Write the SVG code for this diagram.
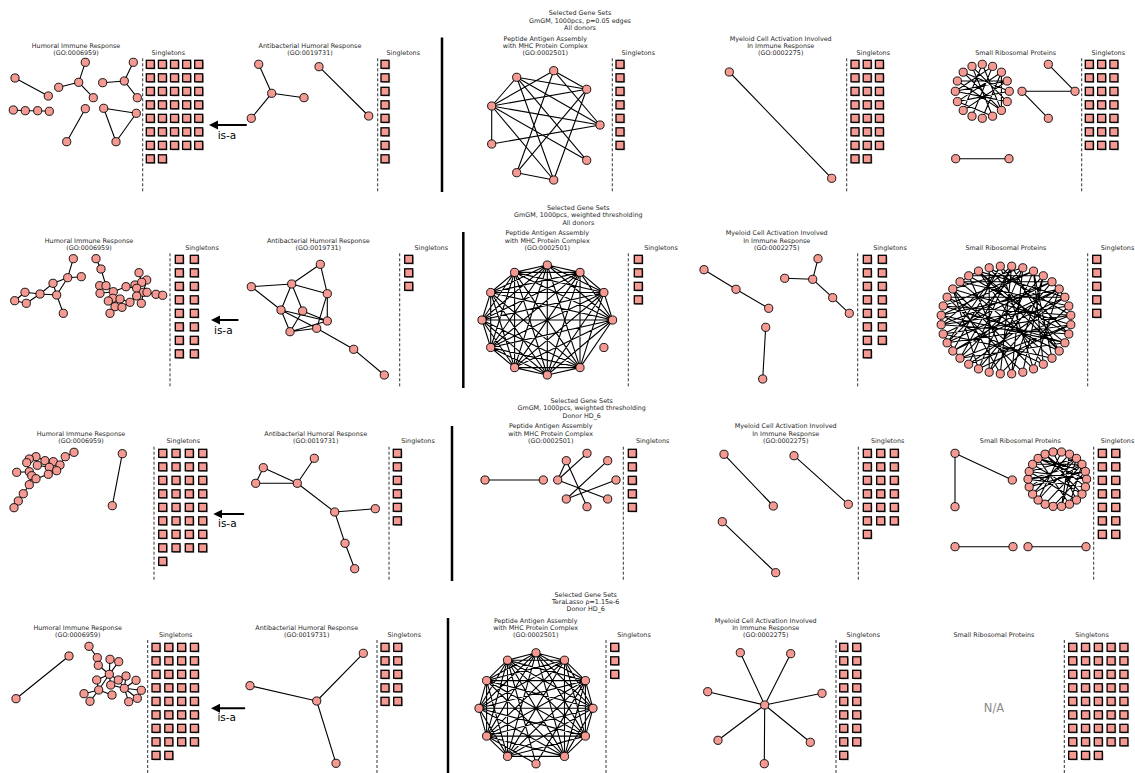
<svg xmlns="http://www.w3.org/2000/svg" xmlns:xlink="http://www.w3.org/1999/xlink" width="1135" height="773" viewBox="0 0 1135 773">
<style>
.t{font-family:"DejaVu Sans","Liberation Sans",sans-serif;font-size:6.4px;fill:#262626;text-anchor:middle}
.isa{font-family:"DejaVu Sans","Liberation Sans",sans-serif;font-size:10.5px;fill:#000;text-anchor:middle}
.na{font-family:"DejaVu Sans","Liberation Sans",sans-serif;font-size:11.5px;fill:#8a8a8a;text-anchor:middle}
.dash{stroke:#333;stroke-width:1;stroke-dasharray:3 2;fill:none}
.sep{stroke:#000;stroke-width:2.5}
.arr{stroke:#000;stroke-width:2;fill:none}
.cn{fill:#f59a92;stroke:#000;stroke-width:0.9}
.sq{fill:#f59a92;stroke:#000;stroke-width:1.3}
#labels{opacity:0.99}
</style>
<defs>
<circle id="c" r="4.1"/>
<g id="q"><rect x="-2.8" y="-2.8" width="8" height="8" fill="#b5b5b5" stroke="none"/><rect x="-4" y="-4" width="8" height="8"/></g>
<marker id="ah" viewBox="0 0 10 10" refX="0" refY="5" markerUnits="userSpaceOnUse" markerWidth="9" markerHeight="10" orient="auto"><path d="M0 0L10 5L0 10Z" fill="#000"/></marker>
</defs>
<rect width="1135" height="773" fill="#fff"/>

<g id="labels">
<text class="t" x="580" y="15.2">Selected Gene Sets</text>
<text class="t" x="580" y="22.5">GmGM, 1000pcs, p=0.05 edges</text>
<text class="t" x="580" y="29.8">All donors</text>
<text class="t" x="76" y="47.7">Humoral Immune Response</text>
<text class="t" x="76" y="55">(GO:0006959)</text>
<text class="t" x="168.3" y="55">Singletons</text>
<text class="t" x="310" y="47.7">Antibacterial Humoral Response</text>
<text class="t" x="310" y="55">(GO:0019731)</text>
<text class="t" x="403.3" y="55">Singletons</text>
<text class="t" x="545.3" y="41">Peptide Antigen Assembly</text>
<text class="t" x="545.3" y="47.7">with MHC Protein Complex</text>
<text class="t" x="545.3" y="55">(GO:0002501)</text>
<text class="t" x="638.3" y="55">Singletons</text>
<text class="t" x="780.7" y="41">Myeloid Cell Activation Involved</text>
<text class="t" x="780.7" y="47.7">In Immune Response</text>
<text class="t" x="780.7" y="55">(GO:0002275)</text>
<text class="t" x="873.3" y="55">Singletons</text>
<text class="t" x="1015.7" y="55">Small Ribosomal Proteins</text>
<text class="t" x="1108.3" y="55">Singletons</text>
<text class="isa" x="227" y="138.5">is-a</text>

<text class="t" x="578.3" y="210">Selected Gene Sets</text>
<text class="t" x="578.3" y="217.2">GmGM, 1000pcs, weighted thresholding</text>
<text class="t" x="578.3" y="224.5">All donors</text>
<text class="t" x="89" y="242.7">Humoral Immune Response</text>
<text class="t" x="89" y="250">(GO:0006959)</text>
<text class="t" x="202" y="250">Singletons</text>
<text class="t" x="318.3" y="242.7">Antibacterial Humoral Response</text>
<text class="t" x="318.3" y="250">(GO:0019731)</text>
<text class="t" x="431.3" y="250">Singletons</text>
<text class="t" x="547.3" y="235.4">Peptide Antigen Assembly</text>
<text class="t" x="547.3" y="242.7">with MHC Protein Complex</text>
<text class="t" x="547.3" y="250">(GO:0002501)</text>
<text class="t" x="661" y="250">Singletons</text>
<text class="t" x="776.7" y="235.4">Myeloid Cell Activation Involved</text>
<text class="t" x="776.7" y="242.7">In Immune Response</text>
<text class="t" x="776.7" y="250">(GO:0002275)</text>
<text class="t" x="890" y="250">Singletons</text>
<text class="t" x="1006" y="250">Small Ribosomal Proteins</text>
<text class="t" x="1117.5" y="250">Singletons</text>
<text class="isa" x="223.3" y="333.5">is-a</text>

<text class="t" x="581.7" y="403">Selected Gene Sets</text>
<text class="t" x="581.7" y="410.3">GmGM, 1000pcs, weighted thresholding</text>
<text class="t" x="581.7" y="417.6">Donor HD_6</text>
<text class="t" x="81" y="435.7">Humoral Immune Response</text>
<text class="t" x="81" y="443">(GO:0006959)</text>
<text class="t" x="183.3" y="443">Singletons</text>
<text class="t" x="315.7" y="435.7">Antibacterial Humoral Response</text>
<text class="t" x="315.7" y="443">(GO:0019731)</text>
<text class="t" x="418" y="443">Singletons</text>
<text class="t" x="550.7" y="428.4">Peptide Antigen Assembly</text>
<text class="t" x="550.7" y="435.7">with MHC Protein Complex</text>
<text class="t" x="550.7" y="443">(GO:0002501)</text>
<text class="t" x="652.7" y="443">Singletons</text>
<text class="t" x="785.7" y="428.4">Myeloid Cell Activation Involved</text>
<text class="t" x="785.7" y="435.7">In Immune Response</text>
<text class="t" x="785.7" y="443">(GO:0002275)</text>
<text class="t" x="887.7" y="443">Singletons</text>
<text class="t" x="1020.3" y="443">Small Ribosomal Proteins</text>
<text class="t" x="1117.5" y="443">Singletons</text>
<text class="isa" x="227.3" y="526.8">is-a</text>

<text class="t" x="585.7" y="596.7">Selected Gene Sets</text>
<text class="t" x="585.7" y="604">TeraLasso ρ=1.15e-6</text>
<text class="t" x="585.7" y="611.4">Donor HD_6</text>
<text class="t" x="77.7" y="630">Humoral Immune Response</text>
<text class="t" x="77.7" y="637.4">(GO:0006959)</text>
<text class="t" x="175.7" y="637.4">Singletons</text>
<text class="t" x="306.7" y="630">Antibacterial Humoral Response</text>
<text class="t" x="306.7" y="637.4">(GO:0019731)</text>
<text class="t" x="404.3" y="637.4">Singletons</text>
<text class="t" x="535.7" y="622.7">Peptide Antigen Assembly</text>
<text class="t" x="535.7" y="630">with MHC Protein Complex</text>
<text class="t" x="535.7" y="637.4">(GO:0002501)</text>
<text class="t" x="634" y="637.4">Singletons</text>
<text class="t" x="765.7" y="622.7">Myeloid Cell Activation Involved</text>
<text class="t" x="765.7" y="630">In Immune Response</text>
<text class="t" x="765.7" y="637.4">(GO:0002275)</text>
<text class="t" x="863.3" y="637.4">Singletons</text>
<text class="t" x="994" y="637.4">Small Ribosomal Proteins</text>
<text class="t" x="1092" y="637.4">Singletons</text>
<text class="na" x="994" y="712">N/A</text>
<text class="isa" x="226.7" y="721.2">is-a</text>
</g>

<g id="dividers">
<line class="sep" x1="442" y1="37.5" x2="442" y2="192"/>
<line class="sep" x1="463.3" y1="232" x2="463.3" y2="388"/>
<line class="sep" x1="452" y1="426" x2="452" y2="581"/>
<line class="sep" x1="448" y1="618" x2="448" y2="773"/>
<path class="dash" d="M142.7 58.3V192M377.7 58.3V192M612.3 58.3V192M846.7 58.3V192M1081.7 58.3V192"/>
<path class="dash" d="M170 253.3V388M399.7 253.3V388M628.3 253.3V388M857.7 253.3V388M1087.7 253.3V388"/>
<path class="dash" d="M154 446.7V581M389 446.7V581M623.3 446.7V581M858.3 446.7V581M1093.7 446.7V581"/>
<path class="dash" d="M147.7 640V773M377 640V773M606 640V773M836 640V773M1064.3 640V773"/>
</g>

<g id="connectors" fill="none" stroke="#000" stroke-width="1.1" stroke-linejoin="round" stroke-linecap="round">
<line id="isa1" class="arr" x1="246" y1="125" x2="218" y2="125" marker-end="url(#ah)"/>
<line id="isa2" class="arr" x1="237.7" y1="320" x2="220" y2="320" marker-end="url(#ah)"/>
<line id="isa3" class="arr" x1="243.3" y1="514" x2="222.3" y2="514" marker-end="url(#ah)"/>
<line id="isa4" class="arr" x1="244.3" y1="708.3" x2="220" y2="708.3" marker-end="url(#ah)"/>
<path id="e1h" d="M15 78L48.3 96M13.3 110L25.3 110.7L37.7 110.7L49.3 111.3M85.3 62.3L78.7 82.3L58.7 87.3M78.7 82.3L93.3 97.7M85.3 108.7L66.7 141.7M133.3 62.3L124.3 81L102.7 82.7M124.3 81L137.3 97.7M103.7 108.3L136.3 113.3L116 141.7Z"/>
<path id="e1a" d="M258.7 64.3L271.7 93.3L304 97.7M271.7 93.3L251.3 118.3M319 66.7L368.7 116"/>
<path id="e1p" d="M491.7 106L491.7 144M491.7 106L516.7 77.3M491.7 106L553.7 70.7M491.7 106L586.7 89.3M491.7 106L600 125M491.7 106L586.7 160.3M491.7 106L553.7 180M516.7 77.3L586.7 89.3M516.7 77.3L600 125M516.7 77.3L586.7 160.3M516.7 77.3L553.7 180M553.7 70.7L586.7 89.3M553.7 70.7L600 125M553.7 70.7L516.7 172.7M586.7 89.3L516.7 172.7M586.7 89.3L553.7 180M491.7 144L600 125M516.7 172.7L553.7 180"/>
<path id="e1m" d="M729.3 72L831.7 178.3"/>
<path id="e1r" d="M963.2 72.2L1009.3 91.3M963.2 72.2L1001.4 110.4M972 66.4L1007.2 101.6M957.4 81L1001.4 110.4M955.3 91.3L1007.2 81M955.3 91.3L1007.2 101.6M957.4 101.6L1001.4 72.2M957.4 101.6L992.6 116.2M982.3 64.3L963.2 110.4M992.6 66.4L972 116.2M992.6 66.4L955.3 91.3M1007.2 81L963.2 110.4M1001.4 72.2L982.3 118.3M1001.4 72.2L1001.4 110.4M972 66.4L992.6 116.2M1009.3 91.3L957.4 101.6M957.4 81L1007.2 81M982.3 64.3L1001.4 110.4M1022 91.3L1075 91.3M1022 91.3L1048.3 118.3M1048.3 64.3L1075 91.3M955.7 158.7L1009 158.7"/>
<path id="e2h" d="M73.3 258.7L67.7 277.7L81.3 276.7M67.7 277.7L53 283.3L40 294L25 292.3L14.7 300.7L26.3 303.3L40 294L56.7 295L67.7 277.7M53 283.3L56.7 295L63.3 313.3M96 258.7L101 269L106 285.7L99.7 285.7L100 293.3L113.3 291.7L106 285.7M113.3 291.7L112.7 298.3L108.3 301L115 306.7L110 313.3M112.7 298.3L115 306.7M112.7 298.3L120 299L130 302.3L136.7 296L141.3 303.3L143.3 292.3L147 292.3L156 294.3L162.7 295.3M136.7 296L143.3 292.3M120 299L122 307.3L130 302.3M113.3 291.7L126 286.7L136.7 288.3L135 285M136.7 288.3L141.7 282.3L139 272.7M141.7 282.3L146.7 280L143.3 292.3M136.7 288.3L136.7 296"/>
<path id="e2a" d="M251.3 286.7L291.7 284L320.3 264.3L327.3 293.7L291.7 284L281 310L251.3 286.7M291.7 284L302.7 311L290 331.7L281 310L327.3 321L327.3 293.7L316.7 328.3L281 310M302.7 311L327.3 321L290 331.7L316.7 328.3L353.7 349.3L384.3 375"/>
<path id="e2p" d="M547.3 265L580 272.4L603.9 292.5L612.6 320L580 367.6L547.3 375L514.6 367.6L490.7 347.5L482 320L490.7 292.5L514.6 272.4ZM547.3 265L603.9 292.5L580 367.6L514.6 367.6L482 320L514.6 272.4L580 272.4L612.6 320L547.3 375L490.7 347.5L490.7 292.5ZM547.3 265L612.6 320L514.6 367.6L490.7 292.5L580 272.4L580 367.6L490.7 347.5L514.6 272.4L603.9 292.5L547.3 375L482 320ZM547.3 265L580 367.6L482 320L580 272.4L547.3 375L490.7 292.5L603.9 292.5L514.6 367.6L514.6 272.4L612.6 320L490.7 347.5ZM547.3 265L547.3 375L514.6 272.4L580 367.6L490.7 292.5L612.6 320L482 320L603.9 292.5L490.7 347.5L580 272.4L514.6 367.6Z"/>
<path id="e2m" d="M704 269.7L736 289.3L768.7 308.3M818 258.7L812.7 279.3L784.7 278.3M812.7 279.3L832.7 297.7L849.3 313.3M765.7 327.3L762.7 379"/>
<path id="e2r" d="M1011.7 266.2L1000.3 373.8M1011.7 266.2L960 358.2M1011.7 266.2L941.2 324.7M1022.8 267.8L978.5 368.9M1022.8 267.8L947.1 342.8M1022.8 267.8L952.8 289M1033.5 271.1L1043.3 364.2M1033.5 271.1L989.2 372.2M1033.5 271.1L943.2 306M1043.3 275.8L960 358.2M1043.3 275.8L968.7 275.8M1043.3 275.8L1011.7 373.8M1052 281.8L943.2 334M1052 281.8L960 281.8M1052 281.8L978.5 368.9M1059.2 289L941.2 315.3M1059.2 289L952.8 351M1059.2 289L1033.5 368.9M1064.9 297.2L947.1 297.2M1064.9 297.2L968.7 364.2M1064.9 297.2L978.5 271.1M1068.8 306L941.2 324.7M1068.8 306L1000.3 373.8M1068.8 306L960 281.8M1070.8 315.3L943.2 306M1070.8 315.3L960 358.2M1070.8 315.3L989.2 267.8M1070.8 324.7L952.8 289M1070.8 324.7L947.1 342.8M1070.8 324.7L978.5 368.9M1068.8 334L968.7 275.8M1068.8 334L941.2 324.7M1068.8 334L1000.3 266.2M1064.9 342.8L941.2 315.3M1064.9 342.8L978.5 271.1M1064.9 342.8L960 358.2M1059.2 351L947.1 297.2M1059.2 351L989.2 267.8M1059.2 351L1011.7 266.2M1052 358.2L960 281.8M1052 358.2L943.2 334M1052 358.2L1033.5 271.1M1043.3 364.2L978.5 271.1M1043.3 364.2L941.2 315.3M1033.5 368.9L952.8 289M1033.5 368.9L1000.3 266.2M1022.8 372.2L947.1 297.2M1022.8 372.2L1043.3 275.8M1011.7 373.8L968.7 275.8M1011.7 373.8L1022.8 267.8M1000.3 373.8L952.8 289M989.2 372.2L989.2 267.8M989.2 372.2L1059.2 289M968.7 364.2L1011.7 266.2M952.8 351L1064.9 297.2M947.1 342.8L1000.3 266.2M943.2 334L1070.8 315.3M943.2 306L1064.9 342.8M978.5 271.1L1059.2 351M952.8 289L978.5 368.9M968.7 364.2L1070.8 324.7M941.2 324.7L1052 281.8M941.2 315.3L1033.5 271.1M952.8 351L1000.3 266.2M947.1 342.8L1059.2 289M960 358.2L943.2 334M960 281.8L978.5 271.1M1052 281.8L1064.9 297.2"/>
<path id="e3h" d="M74 452.3L65.3 456.7L60 465L53.3 461.7L45 460.7L36 456.7L29.3 459L26.7 462.7L29.3 471.7L16.7 472.3M36 456.7L37.3 465.3L49.3 467.3L48.3 474.3L56.7 470.7L60 465M45 460.7L49.3 467.3M29.3 471.7L31.7 475.7L36 478.7L48.3 474.3M31.7 475.7L29.3 484.7L23.3 493.7L18.3 501L14 507.7M122.3 453.7L112.3 505.7"/>
<path id="e3a" d="M263.3 467.7L255.7 483.3L297.3 483.3L263.3 467.7M297.3 483.3L314.3 458.3M297.3 483.3L334.7 512L375.3 508.7M334.7 512L345 543.3L354.7 568.7"/>
<path id="e3p" d="M485 480L543.3 480M566.3 460.7L557.7 480L587 453.3M557.7 480L607.7 499M566.3 460.7L587 506.7M607.7 460.7L566.3 499L616 480"/>
<path id="e3m" d="M724 454.3L773.3 506M794 455.7L848.3 504.3M722.3 521.7L775.7 572.7"/>
<path id="e3r" d="M1076.5 458.4L1038.1 500M1076.5 458.4L1029.2 486.9M1076.5 458.4L1029.2 471.5M1082 464.3L1045.1 504.2M1082 464.3L1032.6 494.1M1082 464.3L1028 479.2M1082 464.3L1032.6 464.3M1085.4 471.5L1028 479.2M1085.4 471.5L1053.1 506.4M1085.4 471.5L1038.1 458.4M1069.5 454.2L1032.6 494.1M1069.5 454.2L1061.5 506.4M1086.6 479.2L1029.2 471.5M1086.6 479.2L1038.1 458.4M1085.4 486.9L1028 479.2M1085.4 486.9L1045.1 454.2M1082 494.1L1032.6 464.3M1076.5 458.4L1061.5 506.4M1061.5 452L1038.1 500M1053.1 452L1076.5 500M1045.1 454.2L1082 494.1M1038.1 458.4L1069.5 504.2M1029.2 471.5L1076.5 500M1029.2 486.9L1085.4 471.5M1082 464.3L1069.5 504.2M955 453.3L1012.3 480M955 453.3L955 506.7M955 546.7L1013 546.7M1028 546.7L1086 546.7"/>
<path id="e4h" d="M69 656L16 698.7M89 646.3L97.3 657.7L98.3 665.3L109.3 674.3L110 659.3M118.7 661.7L109.3 674.3L118.3 680L124.3 688.3L126 676M118.3 680L126 676M136 680.3L124.3 688.3L141.3 690.3M124.3 688.3L137.3 698.3M124.3 688.3L128.7 701.7M109.3 674.3L96.7 680L98.7 690L84 693.7M109.3 674.3L110.7 685L124.3 688.3M109.3 674.3L98.7 690L90 701.3M98.7 690L112 695"/>
<path id="e4a" d="M316.7 701L250 685.7M316.7 701L363.3 653.3M316.7 701L336 763.3"/>
<path id="e4p" d="M536 652.8L564.5 660.2L585.4 680.6L593 708.3L585.4 736.1L564.5 756.4L507.5 756.4L486.6 736.1L479 708.3L486.6 680.6L507.5 660.2ZM536 652.8L585.4 680.6L585.4 736.1L507.5 756.4L479 708.3L507.5 660.2L564.5 660.2L593 708.3L564.5 756.4L486.6 736.1L486.6 680.6ZM536 652.8L593 708.3L507.5 756.4L486.6 680.6L564.5 660.2L585.4 736.1L486.6 736.1L507.5 660.2L585.4 680.6L564.5 756.4L479 708.3ZM536 652.8L585.4 736.1L479 708.3L564.5 660.2L564.5 756.4L486.6 680.6L585.4 680.6L507.5 756.4L507.5 660.2L593 708.3L486.6 736.1ZM536 652.8L564.5 756.4L507.5 660.2L585.4 736.1L486.6 680.6L593 708.3L479 708.3L585.4 680.6L486.6 736.1L564.5 660.2L507.5 756.4ZM536 763.8L486.6 736.1M536 763.8L507.5 660.2M536 763.8L585.4 680.6"/>
<path id="e4m" d="M764.7 705L740.3 652.7M764.7 705L790.7 653.7M764.7 705L707.7 691.7M764.7 705L822 693.3M764.7 705L718 740.3M764.7 705L810.3 742.3M764.7 705L764.3 763.7"/>
</g>

<g id="graph-nodes" class="cn">
<g id="n1h1"><use href="#c" x="15" y="78"/></g>
<g id="n1h2"><use href="#c" x="48.3" y="96"/></g>
<g id="n1h3"><use href="#c" x="13.3" y="110"/></g>
<g id="n1h4"><use href="#c" x="25.3" y="110.7"/></g>
<g id="n1h5"><use href="#c" x="37.7" y="110.7"/></g>
<g id="n1h6"><use href="#c" x="49.3" y="111.3"/></g>
<g id="n1h7"><use href="#c" x="78.7" y="82.3"/></g>
<g id="n1h8"><use href="#c" x="85.3" y="62.3"/></g>
<g id="n1h9"><use href="#c" x="58.7" y="87.3"/></g>
<g id="n1h10"><use href="#c" x="93.3" y="97.7"/></g>
<g id="n1h11"><use href="#c" x="85.3" y="108.7"/></g>
<g id="n1h12"><use href="#c" x="66.7" y="141.7"/></g>
<g id="n1h13"><use href="#c" x="124.3" y="81"/></g>
<g id="n1h14"><use href="#c" x="133.3" y="62.3"/></g>
<g id="n1h15"><use href="#c" x="102.7" y="82.7"/></g>
<g id="n1h16"><use href="#c" x="137.3" y="97.7"/></g>
<g id="n1h17"><use href="#c" x="103.7" y="108.3"/></g>
<g id="n1h18"><use href="#c" x="136.3" y="113.3"/></g>
<g id="n1h19"><use href="#c" x="116" y="141.7"/></g>
<g id="n1a1"><use href="#c" x="271.7" y="93.3"/></g>
<g id="n1a2"><use href="#c" x="258.7" y="64.3"/></g>
<g id="n1a3"><use href="#c" x="304" y="97.7"/></g>
<g id="n1a4"><use href="#c" x="251.3" y="118.3"/></g>
<g id="n1a5"><use href="#c" x="319" y="66.7"/></g>
<g id="n1a6"><use href="#c" x="368.7" y="116"/></g>
<g id="n1p1"><use href="#c" x="516.7" y="77.3"/></g>
<g id="n1p2"><use href="#c" x="553.7" y="70.7"/></g>
<g id="n1p3"><use href="#c" x="586.7" y="89.3"/></g>
<g id="n1p4"><use href="#c" x="600" y="125"/></g>
<g id="n1p5"><use href="#c" x="586.7" y="160.3"/></g>
<g id="n1p6"><use href="#c" x="553.7" y="180"/></g>
<g id="n1p7"><use href="#c" x="516.7" y="172.7"/></g>
<g id="n1p8"><use href="#c" x="491.7" y="144"/></g>
<g id="n1p9"><use href="#c" x="491.7" y="106"/></g>
<g id="n1m1"><use href="#c" x="729.3" y="72"/></g>
<g id="n1m2"><use href="#c" x="831.7" y="178.3"/></g>
<g id="n1r0"><use href="#c" x="982.3" y="64.3"/></g>
<g id="n1r1"><use href="#c" x="992.6" y="66.4"/></g>
<g id="n1r2"><use href="#c" x="1001.4" y="72.2"/></g>
<g id="n1r3"><use href="#c" x="1007.2" y="81"/></g>
<g id="n1r4"><use href="#c" x="1009.3" y="91.3"/></g>
<g id="n1r5"><use href="#c" x="1007.2" y="101.6"/></g>
<g id="n1r6"><use href="#c" x="1001.4" y="110.4"/></g>
<g id="n1r7"><use href="#c" x="992.6" y="116.2"/></g>
<g id="n1r8"><use href="#c" x="982.3" y="118.3"/></g>
<g id="n1r9"><use href="#c" x="972" y="116.2"/></g>
<g id="n1r10"><use href="#c" x="963.2" y="110.4"/></g>
<g id="n1r11"><use href="#c" x="957.4" y="101.6"/></g>
<g id="n1r12"><use href="#c" x="955.3" y="91.3"/></g>
<g id="n1r13"><use href="#c" x="957.4" y="81"/></g>
<g id="n1r14"><use href="#c" x="963.2" y="72.2"/></g>
<g id="n1r15"><use href="#c" x="972" y="66.4"/></g>
<g id="n1r16"><use href="#c" x="1022" y="91.3"/></g>
<g id="n1r17"><use href="#c" x="1075" y="91.3"/></g>
<g id="n1r18"><use href="#c" x="1048.3" y="118.3"/></g>
<g id="n1r19"><use href="#c" x="1048.3" y="64.3"/></g>
<g id="n1r20"><use href="#c" x="955.7" y="158.7"/></g>
<g id="n1r21"><use href="#c" x="1009" y="158.7"/></g>

<g id="n2h1"><use href="#c" x="73.3" y="258.7"/></g>
<g id="n2h2"><use href="#c" x="67.7" y="277.7"/></g>
<g id="n2h3"><use href="#c" x="81.3" y="276.7"/></g>
<g id="n2h4"><use href="#c" x="53" y="283.3"/></g>
<g id="n2h5"><use href="#c" x="56.7" y="295"/></g>
<g id="n2h6"><use href="#c" x="40" y="294"/></g>
<g id="n2h7"><use href="#c" x="25" y="292.3"/></g>
<g id="n2h8"><use href="#c" x="14.7" y="300.7"/></g>
<g id="n2h9"><use href="#c" x="26.3" y="303.3"/></g>
<g id="n2h10"><use href="#c" x="63.3" y="313.3"/></g>
<g id="n2h11"><use href="#c" x="96" y="258.7"/></g>
<g id="n2h12"><use href="#c" x="101" y="269"/></g>
<g id="n2h13"><use href="#c" x="99.7" y="285.7"/></g>
<g id="n2h14"><use href="#c" x="106" y="285.7"/></g>
<g id="n2h15"><use href="#c" x="100" y="293.3"/></g>
<g id="n2h16"><use href="#c" x="113.3" y="291.7"/></g>
<g id="n2h17"><use href="#c" x="126" y="286.7"/></g>
<g id="n2h18"><use href="#c" x="135" y="285"/></g>
<g id="n2h19"><use href="#c" x="139" y="272.7"/></g>
<g id="n2h20"><use href="#c" x="146.7" y="280"/></g>
<g id="n2h21"><use href="#c" x="141.7" y="282.3"/></g>
<g id="n2h22"><use href="#c" x="136.7" y="288.3"/></g>
<g id="n2h23"><use href="#c" x="143.3" y="292.3"/></g>
<g id="n2h24"><use href="#c" x="147" y="292.3"/></g>
<g id="n2h25"><use href="#c" x="156" y="294.3"/></g>
<g id="n2h26"><use href="#c" x="162.7" y="295.3"/></g>
<g id="n2h27"><use href="#c" x="112.7" y="298.3"/></g>
<g id="n2h28"><use href="#c" x="120" y="299"/></g>
<g id="n2h29"><use href="#c" x="136.7" y="296"/></g>
<g id="n2h30"><use href="#c" x="108.3" y="301"/></g>
<g id="n2h31"><use href="#c" x="130" y="302.3"/></g>
<g id="n2h32"><use href="#c" x="141.3" y="303.3"/></g>
<g id="n2h33"><use href="#c" x="115" y="306.7"/></g>
<g id="n2h34"><use href="#c" x="122" y="307.3"/></g>
<g id="n2h35"><use href="#c" x="110" y="313.3"/></g>
<g id="n2a1"><use href="#c" x="251.3" y="286.7"/></g>
<g id="n2a2"><use href="#c" x="291.7" y="284"/></g>
<g id="n2a3"><use href="#c" x="320.3" y="264.3"/></g>
<g id="n2a4"><use href="#c" x="327.3" y="293.7"/></g>
<g id="n2a5"><use href="#c" x="281" y="310"/></g>
<g id="n2a6"><use href="#c" x="302.7" y="311"/></g>
<g id="n2a7"><use href="#c" x="290" y="331.7"/></g>
<g id="n2a8"><use href="#c" x="316.7" y="328.3"/></g>
<g id="n2a9"><use href="#c" x="327.3" y="321"/></g>
<g id="n2a10"><use href="#c" x="353.7" y="349.3"/></g>
<g id="n2a11"><use href="#c" x="384.3" y="375"/></g>
<g id="n2p0"><use href="#c" x="547.3" y="265"/></g>
<g id="n2p1"><use href="#c" x="580" y="272.4"/></g>
<g id="n2p2"><use href="#c" x="603.9" y="292.5"/></g>
<g id="n2p3"><use href="#c" x="612.6" y="320"/></g>
<g id="n2p4"><use href="#c" x="603.9" y="347.5"/></g>
<g id="n2p5"><use href="#c" x="580" y="367.6"/></g>
<g id="n2p6"><use href="#c" x="547.3" y="375"/></g>
<g id="n2p7"><use href="#c" x="514.6" y="367.6"/></g>
<g id="n2p8"><use href="#c" x="490.7" y="347.5"/></g>
<g id="n2p9"><use href="#c" x="482" y="320"/></g>
<g id="n2p10"><use href="#c" x="490.7" y="292.5"/></g>
<g id="n2p11"><use href="#c" x="514.6" y="272.4"/></g>
<g id="n2m1"><use href="#c" x="704" y="269.7"/></g>
<g id="n2m2"><use href="#c" x="736" y="289.3"/></g>
<g id="n2m3"><use href="#c" x="768.7" y="308.3"/></g>
<g id="n2m4"><use href="#c" x="818" y="258.7"/></g>
<g id="n2m5"><use href="#c" x="812.7" y="279.3"/></g>
<g id="n2m6"><use href="#c" x="784.7" y="278.3"/></g>
<g id="n2m7"><use href="#c" x="832.7" y="297.7"/></g>
<g id="n2m8"><use href="#c" x="849.3" y="313.3"/></g>
<g id="n2m9"><use href="#c" x="765.7" y="327.3"/></g>
<g id="n2m10"><use href="#c" x="762.7" y="379"/></g>
<g id="n2r0"><use href="#c" x="1011.7" y="266.2"/></g>
<g id="n2r1"><use href="#c" x="1022.8" y="267.8"/></g>
<g id="n2r2"><use href="#c" x="1033.5" y="271.1"/></g>
<g id="n2r3"><use href="#c" x="1043.3" y="275.8"/></g>
<g id="n2r4"><use href="#c" x="1052" y="281.8"/></g>
<g id="n2r5"><use href="#c" x="1059.2" y="289"/></g>
<g id="n2r6"><use href="#c" x="1064.9" y="297.2"/></g>
<g id="n2r7"><use href="#c" x="1068.8" y="306"/></g>
<g id="n2r8"><use href="#c" x="1070.8" y="315.3"/></g>
<g id="n2r9"><use href="#c" x="1070.8" y="324.7"/></g>
<g id="n2r10"><use href="#c" x="1068.8" y="334"/></g>
<g id="n2r11"><use href="#c" x="1064.9" y="342.8"/></g>
<g id="n2r12"><use href="#c" x="1059.2" y="351"/></g>
<g id="n2r13"><use href="#c" x="1052" y="358.2"/></g>
<g id="n2r14"><use href="#c" x="1043.3" y="364.2"/></g>
<g id="n2r15"><use href="#c" x="1033.5" y="368.9"/></g>
<g id="n2r16"><use href="#c" x="1022.8" y="372.2"/></g>
<g id="n2r17"><use href="#c" x="1011.7" y="373.8"/></g>
<g id="n2r18"><use href="#c" x="1000.3" y="373.8"/></g>
<g id="n2r19"><use href="#c" x="989.2" y="372.2"/></g>
<g id="n2r20"><use href="#c" x="978.5" y="368.9"/></g>
<g id="n2r21"><use href="#c" x="968.7" y="364.2"/></g>
<g id="n2r22"><use href="#c" x="960" y="358.2"/></g>
<g id="n2r23"><use href="#c" x="952.8" y="351"/></g>
<g id="n2r24"><use href="#c" x="947.1" y="342.8"/></g>
<g id="n2r25"><use href="#c" x="943.2" y="334"/></g>
<g id="n2r26"><use href="#c" x="941.2" y="324.7"/></g>
<g id="n2r27"><use href="#c" x="941.2" y="315.3"/></g>
<g id="n2r28"><use href="#c" x="943.2" y="306"/></g>
<g id="n2r29"><use href="#c" x="947.1" y="297.2"/></g>
<g id="n2r30"><use href="#c" x="952.8" y="289"/></g>
<g id="n2r31"><use href="#c" x="960" y="281.8"/></g>
<g id="n2r32"><use href="#c" x="968.7" y="275.8"/></g>
<g id="n2r33"><use href="#c" x="978.5" y="271.1"/></g>
<g id="n2r34"><use href="#c" x="989.2" y="267.8"/></g>
<g id="n2r35"><use href="#c" x="1000.3" y="266.2"/></g>

<g id="n3h1"><use href="#c" x="74" y="452.3"/></g>
<g id="n3h2"><use href="#c" x="65.3" y="456.7"/></g>
<g id="n3h3"><use href="#c" x="36" y="456.7"/></g>
<g id="n3h4"><use href="#c" x="29.3" y="459"/></g>
<g id="n3h5"><use href="#c" x="45" y="460.7"/></g>
<g id="n3h6"><use href="#c" x="53.3" y="461.7"/></g>
<g id="n3h7"><use href="#c" x="26.7" y="462.7"/></g>
<g id="n3h8"><use href="#c" x="37.3" y="465.3"/></g>
<g id="n3h9"><use href="#c" x="60" y="465"/></g>
<g id="n3h10"><use href="#c" x="49.3" y="467.3"/></g>
<g id="n3h11"><use href="#c" x="56.7" y="470.7"/></g>
<g id="n3h12"><use href="#c" x="16.7" y="472.3"/></g>
<g id="n3h13"><use href="#c" x="29.3" y="471.7"/></g>
<g id="n3h14"><use href="#c" x="31.7" y="475.7"/></g>
<g id="n3h15"><use href="#c" x="48.3" y="474.3"/></g>
<g id="n3h16"><use href="#c" x="36" y="478.7"/></g>
<g id="n3h17"><use href="#c" x="29.3" y="484.7"/></g>
<g id="n3h18"><use href="#c" x="23.3" y="493.7"/></g>
<g id="n3h19"><use href="#c" x="18.3" y="501"/></g>
<g id="n3h20"><use href="#c" x="14" y="507.7"/></g>
<g id="n3h21"><use href="#c" x="122.3" y="453.7"/></g>
<g id="n3h22"><use href="#c" x="112.3" y="505.7"/></g>
<g id="n3a1"><use href="#c" x="263.3" y="467.7"/></g>
<g id="n3a2"><use href="#c" x="255.7" y="483.3"/></g>
<g id="n3a3"><use href="#c" x="297.3" y="483.3"/></g>
<g id="n3a4"><use href="#c" x="314.3" y="458.3"/></g>
<g id="n3a5"><use href="#c" x="334.7" y="512"/></g>
<g id="n3a6"><use href="#c" x="375.3" y="508.7"/></g>
<g id="n3a7"><use href="#c" x="345" y="543.3"/></g>
<g id="n3a8"><use href="#c" x="354.7" y="568.7"/></g>
<g id="n3p1"><use href="#c" x="485" y="480"/></g>
<g id="n3p2"><use href="#c" x="543.3" y="480"/></g>
<g id="n3p3"><use href="#c" x="557.7" y="480"/></g>
<g id="n3p4"><use href="#c" x="566.3" y="460.7"/></g>
<g id="n3p5"><use href="#c" x="587" y="453.3"/></g>
<g id="n3p6"><use href="#c" x="607.7" y="460.7"/></g>
<g id="n3p7"><use href="#c" x="616" y="480"/></g>
<g id="n3p8"><use href="#c" x="607.7" y="499"/></g>
<g id="n3p9"><use href="#c" x="587" y="506.7"/></g>
<g id="n3p10"><use href="#c" x="566.3" y="499"/></g>
<g id="n3m1"><use href="#c" x="724" y="454.3"/></g>
<g id="n3m2"><use href="#c" x="773.3" y="506"/></g>
<g id="n3m3"><use href="#c" x="794" y="455.7"/></g>
<g id="n3m4"><use href="#c" x="848.3" y="504.3"/></g>
<g id="n3m5"><use href="#c" x="722.3" y="521.7"/></g>
<g id="n3m6"><use href="#c" x="775.7" y="572.7"/></g>
<g id="n3r0"><use href="#c" x="1061.5" y="452"/></g>
<g id="n3r1"><use href="#c" x="1069.5" y="454.2"/></g>
<g id="n3r2"><use href="#c" x="1076.5" y="458.4"/></g>
<g id="n3r3"><use href="#c" x="1082" y="464.3"/></g>
<g id="n3r4"><use href="#c" x="1085.4" y="471.5"/></g>
<g id="n3r5"><use href="#c" x="1086.6" y="479.2"/></g>
<g id="n3r6"><use href="#c" x="1085.4" y="486.9"/></g>
<g id="n3r7"><use href="#c" x="1082" y="494.1"/></g>
<g id="n3r8"><use href="#c" x="1076.5" y="500"/></g>
<g id="n3r9"><use href="#c" x="1069.5" y="504.2"/></g>
<g id="n3r10"><use href="#c" x="1061.5" y="506.4"/></g>
<g id="n3r11"><use href="#c" x="1053.1" y="506.4"/></g>
<g id="n3r12"><use href="#c" x="1045.1" y="504.2"/></g>
<g id="n3r13"><use href="#c" x="1038.1" y="500"/></g>
<g id="n3r14"><use href="#c" x="1032.6" y="494.1"/></g>
<g id="n3r15"><use href="#c" x="1029.2" y="486.9"/></g>
<g id="n3r16"><use href="#c" x="1028" y="479.2"/></g>
<g id="n3r17"><use href="#c" x="1029.2" y="471.5"/></g>
<g id="n3r18"><use href="#c" x="1032.6" y="464.3"/></g>
<g id="n3r19"><use href="#c" x="1038.1" y="458.4"/></g>
<g id="n3r20"><use href="#c" x="1045.1" y="454.2"/></g>
<g id="n3r21"><use href="#c" x="1053.1" y="452"/></g>
<g id="n3r22"><use href="#c" x="955" y="453.3"/></g>
<g id="n3r23"><use href="#c" x="1012.3" y="480"/></g>
<g id="n3r24"><use href="#c" x="955" y="506.7"/></g>
<g id="n3r25"><use href="#c" x="955" y="546.7"/></g>
<g id="n3r26"><use href="#c" x="1013" y="546.7"/></g>
<g id="n3r27"><use href="#c" x="1028" y="546.7"/></g>
<g id="n3r28"><use href="#c" x="1086" y="546.7"/></g>

<g id="n4h1"><use href="#c" x="69" y="656"/></g>
<g id="n4h2"><use href="#c" x="16" y="698.7"/></g>
<g id="n4h3"><use href="#c" x="89" y="646.3"/></g>
<g id="n4h4"><use href="#c" x="97.3" y="657.7"/></g>
<g id="n4h5"><use href="#c" x="98.3" y="665.3"/></g>
<g id="n4h6"><use href="#c" x="110" y="659.3"/></g>
<g id="n4h7"><use href="#c" x="118.7" y="661.7"/></g>
<g id="n4h8"><use href="#c" x="109.3" y="674.3"/></g>
<g id="n4h9"><use href="#c" x="118.3" y="680"/></g>
<g id="n4h10"><use href="#c" x="126" y="676"/></g>
<g id="n4h11"><use href="#c" x="136" y="680.3"/></g>
<g id="n4h12"><use href="#c" x="96.7" y="680"/></g>
<g id="n4h13"><use href="#c" x="110.7" y="685"/></g>
<g id="n4h14"><use href="#c" x="98.7" y="690"/></g>
<g id="n4h15"><use href="#c" x="124.3" y="688.3"/></g>
<g id="n4h16"><use href="#c" x="141.3" y="690.3"/></g>
<g id="n4h17"><use href="#c" x="84" y="693.7"/></g>
<g id="n4h18"><use href="#c" x="112" y="695"/></g>
<g id="n4h19"><use href="#c" x="137.3" y="698.3"/></g>
<g id="n4h20"><use href="#c" x="128.7" y="701.7"/></g>
<g id="n4h21"><use href="#c" x="90" y="701.3"/></g>
<g id="n4a1"><use href="#c" x="316.7" y="701"/></g>
<g id="n4a2"><use href="#c" x="250" y="685.7"/></g>
<g id="n4a3"><use href="#c" x="363.3" y="653.3"/></g>
<g id="n4a4"><use href="#c" x="336" y="763.3"/></g>
<g id="n4p0"><use href="#c" x="536" y="652.8"/></g>
<g id="n4p1"><use href="#c" x="564.5" y="660.2"/></g>
<g id="n4p2"><use href="#c" x="585.4" y="680.6"/></g>
<g id="n4p3"><use href="#c" x="593" y="708.3"/></g>
<g id="n4p4"><use href="#c" x="585.4" y="736.1"/></g>
<g id="n4p5"><use href="#c" x="564.5" y="756.4"/></g>
<g id="n4p6"><use href="#c" x="536" y="763.8"/></g>
<g id="n4p7"><use href="#c" x="507.5" y="756.4"/></g>
<g id="n4p8"><use href="#c" x="486.6" y="736.1"/></g>
<g id="n4p9"><use href="#c" x="479" y="708.3"/></g>
<g id="n4p10"><use href="#c" x="486.6" y="680.6"/></g>
<g id="n4p11"><use href="#c" x="507.5" y="660.2"/></g>
<g id="n4m1"><use href="#c" x="764.7" y="705"/></g>
<g id="n4m2"><use href="#c" x="740.3" y="652.7"/></g>
<g id="n4m3"><use href="#c" x="790.7" y="653.7"/></g>
<g id="n4m4"><use href="#c" x="707.7" y="691.7"/></g>
<g id="n4m5"><use href="#c" x="822" y="693.3"/></g>
<g id="n4m6"><use href="#c" x="718" y="740.3"/></g>
<g id="n4m7"><use href="#c" x="810.3" y="742.3"/></g>
<g id="n4m8"><use href="#c" x="764.3" y="763.7"/></g>
</g>

<g id="singleton-nodes" class="sq">
<g id="s1h1"><use href="#q" x="150.3" y="64.3"/></g><g id="s1h2"><use href="#q" x="162.4" y="64.3"/></g><g id="s1h3"><use href="#q" x="174.5" y="64.3"/></g><g id="s1h4"><use href="#q" x="186.6" y="64.3"/></g><g id="s1h5"><use href="#q" x="198.7" y="64.3"/></g>
<g id="s1h6"><use href="#q" x="150.3" y="77.8"/></g><g id="s1h7"><use href="#q" x="162.4" y="77.8"/></g><g id="s1h8"><use href="#q" x="174.5" y="77.8"/></g><g id="s1h9"><use href="#q" x="186.6" y="77.8"/></g><g id="s1h10"><use href="#q" x="198.7" y="77.8"/></g>
<g id="s1h11"><use href="#q" x="150.3" y="91.3"/></g><g id="s1h12"><use href="#q" x="162.4" y="91.3"/></g><g id="s1h13"><use href="#q" x="174.5" y="91.3"/></g><g id="s1h14"><use href="#q" x="186.6" y="91.3"/></g><g id="s1h15"><use href="#q" x="198.7" y="91.3"/></g>
<g id="s1h16"><use href="#q" x="150.3" y="104.8"/></g><g id="s1h17"><use href="#q" x="162.4" y="104.8"/></g><g id="s1h18"><use href="#q" x="174.5" y="104.8"/></g><g id="s1h19"><use href="#q" x="186.6" y="104.8"/></g><g id="s1h20"><use href="#q" x="198.7" y="104.8"/></g>
<g id="s1h21"><use href="#q" x="150.3" y="118.3"/></g><g id="s1h22"><use href="#q" x="162.4" y="118.3"/></g><g id="s1h23"><use href="#q" x="174.5" y="118.3"/></g><g id="s1h24"><use href="#q" x="186.6" y="118.3"/></g><g id="s1h25"><use href="#q" x="198.7" y="118.3"/></g>
<g id="s1h26"><use href="#q" x="150.3" y="131.8"/></g><g id="s1h27"><use href="#q" x="162.4" y="131.8"/></g><g id="s1h28"><use href="#q" x="174.5" y="131.8"/></g><g id="s1h29"><use href="#q" x="186.6" y="131.8"/></g><g id="s1h30"><use href="#q" x="198.7" y="131.8"/></g>
<g id="s1h31"><use href="#q" x="150.3" y="145.3"/></g><g id="s1h32"><use href="#q" x="162.4" y="145.3"/></g><g id="s1h33"><use href="#q" x="174.5" y="145.3"/></g><g id="s1h34"><use href="#q" x="186.6" y="145.3"/></g><g id="s1h35"><use href="#q" x="198.7" y="145.3"/></g>
<g id="s1h36"><use href="#q" x="150.3" y="158.8"/></g><g id="s1h37"><use href="#q" x="162.4" y="158.8"/></g>
<g id="s1a1"><use href="#q" x="385" y="64.3"/></g><g id="s1a2"><use href="#q" x="385" y="77.8"/></g><g id="s1a3"><use href="#q" x="385" y="91.3"/></g><g id="s1a4"><use href="#q" x="385" y="104.8"/></g><g id="s1a5"><use href="#q" x="385" y="118.3"/></g><g id="s1a6"><use href="#q" x="385" y="131.8"/></g><g id="s1a7"><use href="#q" x="385" y="145.3"/></g><g id="s1a8"><use href="#q" x="385" y="158.8"/></g>
<g id="s1p1"><use href="#q" x="620" y="64.3"/></g><g id="s1p2"><use href="#q" x="620" y="77.8"/></g><g id="s1p3"><use href="#q" x="620" y="91.3"/></g><g id="s1p4"><use href="#q" x="620" y="104.8"/></g><g id="s1p5"><use href="#q" x="620" y="118.3"/></g><g id="s1p6"><use href="#q" x="620" y="131.8"/></g><g id="s1p7"><use href="#q" x="620" y="145.3"/></g>
<g id="s1m1"><use href="#q" x="855" y="64.3"/></g><g id="s1m2"><use href="#q" x="867.2" y="64.3"/></g><g id="s1m3"><use href="#q" x="879.4" y="64.3"/></g>
<g id="s1m4"><use href="#q" x="855" y="77.8"/></g><g id="s1m5"><use href="#q" x="867.2" y="77.8"/></g><g id="s1m6"><use href="#q" x="879.4" y="77.8"/></g>
<g id="s1m7"><use href="#q" x="855" y="91.3"/></g><g id="s1m8"><use href="#q" x="867.2" y="91.3"/></g><g id="s1m9"><use href="#q" x="879.4" y="91.3"/></g>
<g id="s1m10"><use href="#q" x="855" y="104.8"/></g><g id="s1m11"><use href="#q" x="867.2" y="104.8"/></g><g id="s1m12"><use href="#q" x="879.4" y="104.8"/></g>
<g id="s1m13"><use href="#q" x="855" y="118.3"/></g><g id="s1m14"><use href="#q" x="867.2" y="118.3"/></g><g id="s1m15"><use href="#q" x="879.4" y="118.3"/></g>
<g id="s1m16"><use href="#q" x="855" y="131.8"/></g><g id="s1m17"><use href="#q" x="867.2" y="131.8"/></g><g id="s1m18"><use href="#q" x="879.4" y="131.8"/></g>
<g id="s1m19"><use href="#q" x="855" y="145.3"/></g><g id="s1m20"><use href="#q" x="867.2" y="145.3"/></g><g id="s1m21"><use href="#q" x="879.4" y="145.3"/></g>
<g id="s1m22"><use href="#q" x="855" y="158.8"/></g><g id="s1m23"><use href="#q" x="867.2" y="158.8"/></g>
<g id="s1r1"><use href="#q" x="1089.3" y="64.3"/></g><g id="s1r2"><use href="#q" x="1101.6" y="64.3"/></g><g id="s1r3"><use href="#q" x="1113.9" y="64.3"/></g>
<g id="s1r4"><use href="#q" x="1089.3" y="77.8"/></g><g id="s1r5"><use href="#q" x="1101.6" y="77.8"/></g><g id="s1r6"><use href="#q" x="1113.9" y="77.8"/></g>
<g id="s1r7"><use href="#q" x="1089.3" y="91.3"/></g><g id="s1r8"><use href="#q" x="1101.6" y="91.3"/></g><g id="s1r9"><use href="#q" x="1113.9" y="91.3"/></g>
<g id="s1r10"><use href="#q" x="1089.3" y="104.8"/></g><g id="s1r11"><use href="#q" x="1101.6" y="104.8"/></g><g id="s1r12"><use href="#q" x="1113.9" y="104.8"/></g>
<g id="s1r13"><use href="#q" x="1089.3" y="118.3"/></g><g id="s1r14"><use href="#q" x="1101.6" y="118.3"/></g><g id="s1r15"><use href="#q" x="1113.9" y="118.3"/></g>
<g id="s1r16"><use href="#q" x="1089.3" y="131.8"/></g><g id="s1r17"><use href="#q" x="1101.6" y="131.8"/></g><g id="s1r18"><use href="#q" x="1113.9" y="131.8"/></g>
<g id="s1r19"><use href="#q" x="1089.3" y="145.3"/></g><g id="s1r20"><use href="#q" x="1101.6" y="145.3"/></g><g id="s1r21"><use href="#q" x="1113.9" y="145.3"/></g>

<g id="s2h1"><use href="#q" x="179.3" y="259.3"/></g><g id="s2h2"><use href="#q" x="194.3" y="259.3"/></g>
<g id="s2h3"><use href="#q" x="179.3" y="272.8"/></g><g id="s2h4"><use href="#q" x="194.3" y="272.8"/></g>
<g id="s2h5"><use href="#q" x="179.3" y="286.3"/></g><g id="s2h6"><use href="#q" x="194.3" y="286.3"/></g>
<g id="s2h7"><use href="#q" x="179.3" y="299.8"/></g><g id="s2h8"><use href="#q" x="194.3" y="299.8"/></g>
<g id="s2h9"><use href="#q" x="179.3" y="313.3"/></g><g id="s2h10"><use href="#q" x="194.3" y="313.3"/></g>
<g id="s2h11"><use href="#q" x="179.3" y="326.8"/></g><g id="s2h12"><use href="#q" x="194.3" y="326.8"/></g>
<g id="s2h13"><use href="#q" x="179.3" y="340.3"/></g><g id="s2h14"><use href="#q" x="194.3" y="340.3"/></g>
<g id="s2h15"><use href="#q" x="179.3" y="353.8"/></g><g id="s2h16"><use href="#q" x="194.3" y="353.8"/></g>
<g id="s2a1"><use href="#q" x="408.7" y="259.3"/></g><g id="s2a2"><use href="#q" x="408.7" y="272.8"/></g><g id="s2a3"><use href="#q" x="408.7" y="286.3"/></g>
<g id="s2p1"><use href="#q" x="638.3" y="259.3"/></g><g id="s2p2"><use href="#q" x="638.3" y="272.8"/></g><g id="s2p3"><use href="#q" x="638.3" y="286.3"/></g><g id="s2p4"><use href="#q" x="638.3" y="299.8"/></g>
<g id="s2m1"><use href="#q" x="867.3" y="259.3"/></g><g id="s2m2"><use href="#q" x="882.3" y="259.3"/></g>
<g id="s2m3"><use href="#q" x="867.3" y="272.8"/></g><g id="s2m4"><use href="#q" x="882.3" y="272.8"/></g>
<g id="s2m5"><use href="#q" x="867.3" y="286.3"/></g><g id="s2m6"><use href="#q" x="882.3" y="286.3"/></g>
<g id="s2m7"><use href="#q" x="867.3" y="299.8"/></g><g id="s2m8"><use href="#q" x="882.3" y="299.8"/></g>
<g id="s2m9"><use href="#q" x="867.3" y="313.3"/></g><g id="s2m10"><use href="#q" x="882.3" y="313.3"/></g>
<g id="s2m11"><use href="#q" x="867.3" y="326.8"/></g><g id="s2m12"><use href="#q" x="882.3" y="326.8"/></g>
<g id="s2m13"><use href="#q" x="867.3" y="340.3"/></g><g id="s2m14"><use href="#q" x="882.3" y="340.3"/></g>
<g id="s2m15"><use href="#q" x="867.3" y="353.8"/></g>
<g id="s2r1"><use href="#q" x="1096.7" y="259.3"/></g><g id="s2r2"><use href="#q" x="1096.7" y="272.8"/></g><g id="s2r3"><use href="#q" x="1096.7" y="286.3"/></g><g id="s2r4"><use href="#q" x="1096.7" y="299.8"/></g><g id="s2r5"><use href="#q" x="1096.7" y="313.3"/></g>

<g id="s3h1"><use href="#q" x="162.7" y="453.3"/></g><g id="s3h2"><use href="#q" x="176" y="453.3"/></g><g id="s3h3"><use href="#q" x="189.3" y="453.3"/></g><g id="s3h4"><use href="#q" x="202.7" y="453.3"/></g>
<g id="s3h5"><use href="#q" x="162.7" y="466.8"/></g><g id="s3h6"><use href="#q" x="176" y="466.8"/></g><g id="s3h7"><use href="#q" x="189.3" y="466.8"/></g><g id="s3h8"><use href="#q" x="202.7" y="466.8"/></g>
<g id="s3h9"><use href="#q" x="162.7" y="480.3"/></g><g id="s3h10"><use href="#q" x="176" y="480.3"/></g><g id="s3h11"><use href="#q" x="189.3" y="480.3"/></g><g id="s3h12"><use href="#q" x="202.7" y="480.3"/></g>
<g id="s3h13"><use href="#q" x="162.7" y="493.8"/></g><g id="s3h14"><use href="#q" x="176" y="493.8"/></g><g id="s3h15"><use href="#q" x="189.3" y="493.8"/></g><g id="s3h16"><use href="#q" x="202.7" y="493.8"/></g>
<g id="s3h17"><use href="#q" x="162.7" y="507.3"/></g><g id="s3h18"><use href="#q" x="176" y="507.3"/></g><g id="s3h19"><use href="#q" x="189.3" y="507.3"/></g><g id="s3h20"><use href="#q" x="202.7" y="507.3"/></g>
<g id="s3h21"><use href="#q" x="162.7" y="520.8"/></g><g id="s3h22"><use href="#q" x="176" y="520.8"/></g><g id="s3h23"><use href="#q" x="189.3" y="520.8"/></g><g id="s3h24"><use href="#q" x="202.7" y="520.8"/></g>
<g id="s3h25"><use href="#q" x="162.7" y="534.3"/></g><g id="s3h26"><use href="#q" x="176" y="534.3"/></g><g id="s3h27"><use href="#q" x="189.3" y="534.3"/></g><g id="s3h28"><use href="#q" x="202.7" y="534.3"/></g>
<g id="s3h29"><use href="#q" x="162.7" y="547.8"/></g><g id="s3h30"><use href="#q" x="176" y="547.8"/></g><g id="s3h31"><use href="#q" x="189.3" y="547.8"/></g><g id="s3h32"><use href="#q" x="202.7" y="547.8"/></g>
<g id="s3h33"><use href="#q" x="162.7" y="561.3"/></g>
<g id="s3a1"><use href="#q" x="397.3" y="453.3"/></g><g id="s3a2"><use href="#q" x="397.3" y="466.8"/></g><g id="s3a3"><use href="#q" x="397.3" y="480.3"/></g><g id="s3a4"><use href="#q" x="397.3" y="493.8"/></g><g id="s3a5"><use href="#q" x="397.3" y="507.3"/></g><g id="s3a6"><use href="#q" x="397.3" y="520.8"/></g>
<g id="s3p1"><use href="#q" x="632.3" y="453.3"/></g><g id="s3p2"><use href="#q" x="632.3" y="466.8"/></g><g id="s3p3"><use href="#q" x="632.3" y="480.3"/></g><g id="s3p4"><use href="#q" x="632.3" y="493.8"/></g><g id="s3p5"><use href="#q" x="632.3" y="507.3"/></g>
<g id="s3m1"><use href="#q" x="867.3" y="453.3"/></g><g id="s3m2"><use href="#q" x="880.7" y="453.3"/></g><g id="s3m3"><use href="#q" x="894.3" y="453.3"/></g>
<g id="s3m4"><use href="#q" x="867.3" y="466.8"/></g><g id="s3m5"><use href="#q" x="880.7" y="466.8"/></g><g id="s3m6"><use href="#q" x="894.3" y="466.8"/></g>
<g id="s3m7"><use href="#q" x="867.3" y="480.3"/></g><g id="s3m8"><use href="#q" x="880.7" y="480.3"/></g><g id="s3m9"><use href="#q" x="894.3" y="480.3"/></g>
<g id="s3m10"><use href="#q" x="867.3" y="493.8"/></g><g id="s3m11"><use href="#q" x="880.7" y="493.8"/></g><g id="s3m12"><use href="#q" x="894.3" y="493.8"/></g>
<g id="s3m13"><use href="#q" x="867.3" y="507.3"/></g><g id="s3m14"><use href="#q" x="880.7" y="507.3"/></g><g id="s3m15"><use href="#q" x="894.3" y="507.3"/></g>
<g id="s3m16"><use href="#q" x="867.3" y="520.8"/></g><g id="s3m17"><use href="#q" x="880.7" y="520.8"/></g><g id="s3m18"><use href="#q" x="894.3" y="520.8"/></g>
<g id="s3m19"><use href="#q" x="867.3" y="534.3"/></g>
<g id="s3r1"><use href="#q" x="1102.3" y="453.3"/></g><g id="s3r2"><use href="#q" x="1115.7" y="453.3"/></g>
<g id="s3r3"><use href="#q" x="1102.3" y="466.8"/></g><g id="s3r4"><use href="#q" x="1115.7" y="466.8"/></g>
<g id="s3r5"><use href="#q" x="1102.3" y="480.3"/></g><g id="s3r6"><use href="#q" x="1115.7" y="480.3"/></g>
<g id="s3r7"><use href="#q" x="1102.3" y="493.8"/></g><g id="s3r8"><use href="#q" x="1115.7" y="493.8"/></g>
<g id="s3r9"><use href="#q" x="1102.3" y="507.3"/></g><g id="s3r10"><use href="#q" x="1115.7" y="507.3"/></g>
<g id="s3r11"><use href="#q" x="1102.3" y="520.8"/></g><g id="s3r12"><use href="#q" x="1115.7" y="520.8"/></g>
<g id="s3r13"><use href="#q" x="1102.3" y="534.3"/></g><g id="s3r14"><use href="#q" x="1115.7" y="534.3"/></g>

<g id="s4h1"><use href="#q" x="156" y="647.3"/></g><g id="s4h2"><use href="#q" x="168.8" y="647.3"/></g><g id="s4h3"><use href="#q" x="181.6" y="647.3"/></g><g id="s4h4"><use href="#q" x="194.4" y="647.3"/></g>
<g id="s4h5"><use href="#q" x="156" y="660.8"/></g><g id="s4h6"><use href="#q" x="168.8" y="660.8"/></g><g id="s4h7"><use href="#q" x="181.6" y="660.8"/></g><g id="s4h8"><use href="#q" x="194.4" y="660.8"/></g>
<g id="s4h9"><use href="#q" x="156" y="674.3"/></g><g id="s4h10"><use href="#q" x="168.8" y="674.3"/></g><g id="s4h11"><use href="#q" x="181.6" y="674.3"/></g><g id="s4h12"><use href="#q" x="194.4" y="674.3"/></g>
<g id="s4h13"><use href="#q" x="156" y="687.8"/></g><g id="s4h14"><use href="#q" x="168.8" y="687.8"/></g><g id="s4h15"><use href="#q" x="181.6" y="687.8"/></g><g id="s4h16"><use href="#q" x="194.4" y="687.8"/></g>
<g id="s4h17"><use href="#q" x="156" y="701.3"/></g><g id="s4h18"><use href="#q" x="168.8" y="701.3"/></g><g id="s4h19"><use href="#q" x="181.6" y="701.3"/></g><g id="s4h20"><use href="#q" x="194.4" y="701.3"/></g>
<g id="s4h21"><use href="#q" x="156" y="714.8"/></g><g id="s4h22"><use href="#q" x="168.8" y="714.8"/></g><g id="s4h23"><use href="#q" x="181.6" y="714.8"/></g><g id="s4h24"><use href="#q" x="194.4" y="714.8"/></g>
<g id="s4h25"><use href="#q" x="156" y="728.3"/></g><g id="s4h26"><use href="#q" x="168.8" y="728.3"/></g><g id="s4h27"><use href="#q" x="181.6" y="728.3"/></g><g id="s4h28"><use href="#q" x="194.4" y="728.3"/></g>
<g id="s4h29"><use href="#q" x="156" y="741.8"/></g><g id="s4h30"><use href="#q" x="168.8" y="741.8"/></g><g id="s4h31"><use href="#q" x="181.6" y="741.8"/></g><g id="s4h32"><use href="#q" x="194.4" y="741.8"/></g>
<g id="s4h33"><use href="#q" x="156" y="755.3"/></g><g id="s4h34"><use href="#q" x="168.8" y="755.3"/></g>
<g id="s4a1"><use href="#q" x="385" y="647.3"/></g><g id="s4a2"><use href="#q" x="397.7" y="647.3"/></g>
<g id="s4a3"><use href="#q" x="385" y="660.8"/></g><g id="s4a4"><use href="#q" x="397.7" y="660.8"/></g>
<g id="s4a5"><use href="#q" x="385" y="674.3"/></g><g id="s4a6"><use href="#q" x="397.7" y="674.3"/></g>
<g id="s4a7"><use href="#q" x="385" y="687.8"/></g><g id="s4a8"><use href="#q" x="397.7" y="687.8"/></g>
<g id="s4a9"><use href="#q" x="385" y="701.3"/></g><g id="s4a10"><use href="#q" x="397.7" y="701.3"/></g>
<g id="s4p1"><use href="#q" x="614.7" y="647.3"/></g><g id="s4p2"><use href="#q" x="614.7" y="660.8"/></g><g id="s4p3"><use href="#q" x="614.7" y="674.3"/></g>
<g id="s4m1"><use href="#q" x="843.7" y="647.3"/></g><g id="s4m2"><use href="#q" x="856.7" y="647.3"/></g>
<g id="s4m3"><use href="#q" x="843.7" y="660.8"/></g><g id="s4m4"><use href="#q" x="856.7" y="660.8"/></g>
<g id="s4m5"><use href="#q" x="843.7" y="674.3"/></g><g id="s4m6"><use href="#q" x="856.7" y="674.3"/></g>
<g id="s4m7"><use href="#q" x="843.7" y="687.8"/></g><g id="s4m8"><use href="#q" x="856.7" y="687.8"/></g>
<g id="s4m9"><use href="#q" x="843.7" y="701.3"/></g><g id="s4m10"><use href="#q" x="856.7" y="701.3"/></g>
<g id="s4m11"><use href="#q" x="843.7" y="714.8"/></g><g id="s4m12"><use href="#q" x="856.7" y="714.8"/></g>
<g id="s4m13"><use href="#q" x="843.7" y="728.3"/></g><g id="s4m14"><use href="#q" x="856.7" y="728.3"/></g>
<g id="s4m15"><use href="#q" x="843.7" y="741.8"/></g><g id="s4m16"><use href="#q" x="856.7" y="741.8"/></g>
<g id="s4m17"><use href="#q" x="843.7" y="755.3"/></g>
<g id="s4r1"><use href="#q" x="1072.7" y="647.3"/></g><g id="s4r2"><use href="#q" x="1085.5" y="647.3"/></g><g id="s4r3"><use href="#q" x="1098.3" y="647.3"/></g><g id="s4r4"><use href="#q" x="1111.1" y="647.3"/></g><g id="s4r5"><use href="#q" x="1123.9" y="647.3"/></g>
<g id="s4r6"><use href="#q" x="1072.7" y="660.8"/></g><g id="s4r7"><use href="#q" x="1085.5" y="660.8"/></g><g id="s4r8"><use href="#q" x="1098.3" y="660.8"/></g><g id="s4r9"><use href="#q" x="1111.1" y="660.8"/></g><g id="s4r10"><use href="#q" x="1123.9" y="660.8"/></g>
<g id="s4r11"><use href="#q" x="1072.7" y="674.3"/></g><g id="s4r12"><use href="#q" x="1085.5" y="674.3"/></g><g id="s4r13"><use href="#q" x="1098.3" y="674.3"/></g><g id="s4r14"><use href="#q" x="1111.1" y="674.3"/></g><g id="s4r15"><use href="#q" x="1123.9" y="674.3"/></g>
<g id="s4r16"><use href="#q" x="1072.7" y="687.8"/></g><g id="s4r17"><use href="#q" x="1085.5" y="687.8"/></g><g id="s4r18"><use href="#q" x="1098.3" y="687.8"/></g><g id="s4r19"><use href="#q" x="1111.1" y="687.8"/></g><g id="s4r20"><use href="#q" x="1123.9" y="687.8"/></g>
<g id="s4r21"><use href="#q" x="1072.7" y="701.3"/></g><g id="s4r22"><use href="#q" x="1085.5" y="701.3"/></g><g id="s4r23"><use href="#q" x="1098.3" y="701.3"/></g><g id="s4r24"><use href="#q" x="1111.1" y="701.3"/></g><g id="s4r25"><use href="#q" x="1123.9" y="701.3"/></g>
<g id="s4r26"><use href="#q" x="1072.7" y="714.8"/></g><g id="s4r27"><use href="#q" x="1085.5" y="714.8"/></g><g id="s4r28"><use href="#q" x="1098.3" y="714.8"/></g><g id="s4r29"><use href="#q" x="1111.1" y="714.8"/></g><g id="s4r30"><use href="#q" x="1123.9" y="714.8"/></g>
<g id="s4r31"><use href="#q" x="1072.7" y="728.3"/></g><g id="s4r32"><use href="#q" x="1085.5" y="728.3"/></g><g id="s4r33"><use href="#q" x="1098.3" y="728.3"/></g><g id="s4r34"><use href="#q" x="1111.1" y="728.3"/></g><g id="s4r35"><use href="#q" x="1123.9" y="728.3"/></g>
<g id="s4r36"><use href="#q" x="1072.7" y="741.8"/></g><g id="s4r37"><use href="#q" x="1085.5" y="741.8"/></g><g id="s4r38"><use href="#q" x="1098.3" y="741.8"/></g><g id="s4r39"><use href="#q" x="1111.1" y="741.8"/></g><g id="s4r40"><use href="#q" x="1123.9" y="741.8"/></g>
<g id="s4r41"><use href="#q" x="1072.7" y="755.3"/></g><g id="s4r42"><use href="#q" x="1085.5" y="755.3"/></g><g id="s4r43"><use href="#q" x="1098.3" y="755.3"/></g>
</g>
</svg>
